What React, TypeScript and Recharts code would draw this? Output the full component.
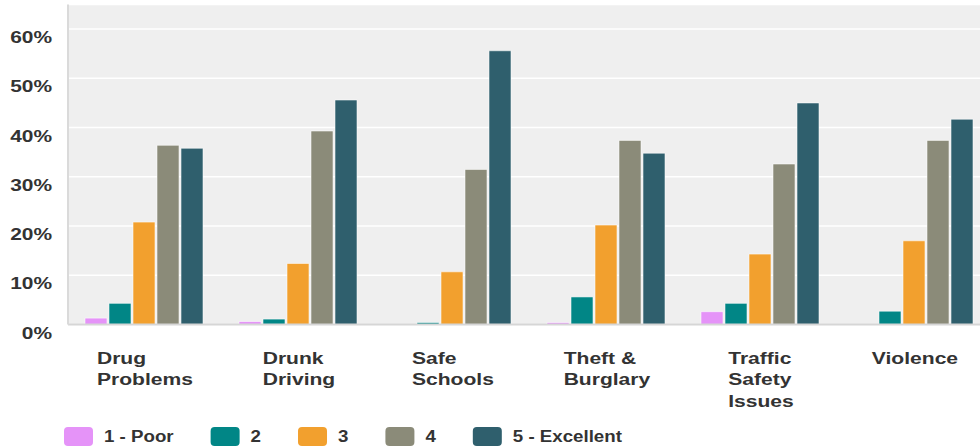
import { BarChart, Bar, XAxis, YAxis, CartesianGrid } from "recharts";

const categories = [
  "Drug\nProblems",
  "Drunk\nDriving",
  "Safe\nSchools",
  "Theft &\nBurglary",
  "Traffic\nSafety\nIssues",
  "Violence",
];

const poor = [1.3, 0.6, 0, 0.4, 2.6, 0];
const fair = [4.3, 1.1, 0.4, 5.6, 4.3, 2.7];
const average = [20.8, 12.4, 10.7, 20.2, 14.3, 17.0];
const good = [36.4, 39.3, 31.5, 37.4, 32.6, 37.4];
const excellent = [35.8, 45.6, 55.6, 34.8, 45.0, 41.7];

const yTicks = [0, 10, 20, 30, 40, 50, 60];

const series = [
  { key: "poor", name: "1 - Poor", values: poor, color: "#E593F8" },
  { key: "fair", name: "2", values: fair, color: "#018686" },
  { key: "average", name: "3", values: average, color: "#F2A02E" },
  { key: "good", name: "4", values: good, color: "#8B8B79" },
  { key: "excellent", name: "5 - Excellent", values: excellent, color: "#2F5F6D" },
];

const data = categories.map((label, i) => {
  const row: Record<string, string | number> = { label };
  series.forEach((s) => {
    row[s.key] = s.values[i];
  });
  return row;
});

const FONT = '"Liberation Sans", Arial, sans-serif';
const TEXT = "#333333";

let ctx: CanvasRenderingContext2D | null = null;
function textWidth(str: string) {
  if (!ctx) {
    ctx = document.createElement("canvas").getContext("2d");
  }
  if (!ctx) return str.length * 9;
  ctx.font = `bold 17px ${FONT}`;
  return ctx.measureText(str).width;
}

const X_STRETCH = 1.24;

function CategoryTick(props: any) {
  const { x, y, payload } = props;
  const lines = String(payload.value).split("\n");
  const w = Math.max(...lines.map(textWidth)) * X_STRETCH;
  const left = x - w / 2;
  return (
    <g transform={`translate(${left},${y}) scale(${X_STRETCH},1)`}>
      {lines.map((line, i) => (
        <text
          key={i}
          x={0}
          y={39.5 + i * 21.5}
          fontFamily={FONT}
          fontSize={17}
          fontWeight="bold"
          fill={TEXT}
        >
          {line}
        </text>
      ))}
    </g>
  );
}

function PercentTick(props: any) {
  const { x, y, payload } = props;
  return (
    <g transform={`translate(${x},${y + 14}) scale(1.23,1)`}>
      <text
        x={0}
        y={0}
        textAnchor="end"
        fontFamily={FONT}
        fontSize={17}
        fontWeight="bold"
        fill={TEXT}
      >
        {`${payload.value}%`}
      </text>
    </g>
  );
}

function LegendRow() {
  const stretch = 1.1;
  let cx = 64;
  const items = series.map((s) => {
    const itemX = cx;
    cx += 40 + textWidth(s.name) * stretch + 37;
    return (
      <g key={s.key}>
        <rect x={itemX} y={427} width={29} height={19} rx={4} fill={s.color} />
        <g transform={`translate(${itemX + 40},442) scale(${stretch},1)`}>
          <text x={0} y={0} fontFamily={FONT} fontSize={17} fontWeight="bold" fill={TEXT}>
            {s.name}
          </text>
        </g>
      </g>
    );
  });
  return (
    <svg
      width={980}
      height={448}
      style={{ position: "absolute", left: 0, top: 0, pointerEvents: "none" }}
    >
      {items}
    </svg>
  );
}

export default function App() {
  return (
    <div
      style={{
        position: "absolute",
        left: 0,
        top: 0,
        width: 980,
        height: 448,
        overflow: "hidden",
        background: "#ffffff",
      }}
    >
      <BarChart
        width={1000}
        height={448}
        data={data}
        margin={{ top: 4.5, right: 8, bottom: 0, left: 0 }}
        barCategoryGap={17}
        barGap={2}
      >
        <CartesianGrid
          vertical={false}
          fill="#EFEFEF"
          stroke="#FFFFFF"
          strokeWidth={1.5}
        />
        <XAxis
          dataKey="label"
          height={123.5}
          interval={0}
          tickLine={false}
          tickSize={0}
          tickMargin={0}
          axisLine={{ stroke: "#D6D6D6", strokeWidth: 2 }}
          tick={<CategoryTick />}
        />
        <YAxis
          width={68}
          domain={[0, 65]}
          ticks={yTicks}
          tickLine={false}
          tickSize={0}
          tickMargin={16}
          axisLine={{ stroke: "#DADADA", strokeWidth: 2 }}
          tick={<PercentTick />}
        />
        {series.map((s) => (
          <Bar
            key={s.key}
            dataKey={s.key}
            name={s.name}
            fill={s.color}
            stroke="#FFFFFF"
            strokeOpacity={0.55}
            strokeWidth={1}
            isAnimationActive={false}
          />
        ))}
      </BarChart>
      <LegendRow />
    </div>
  );
}
